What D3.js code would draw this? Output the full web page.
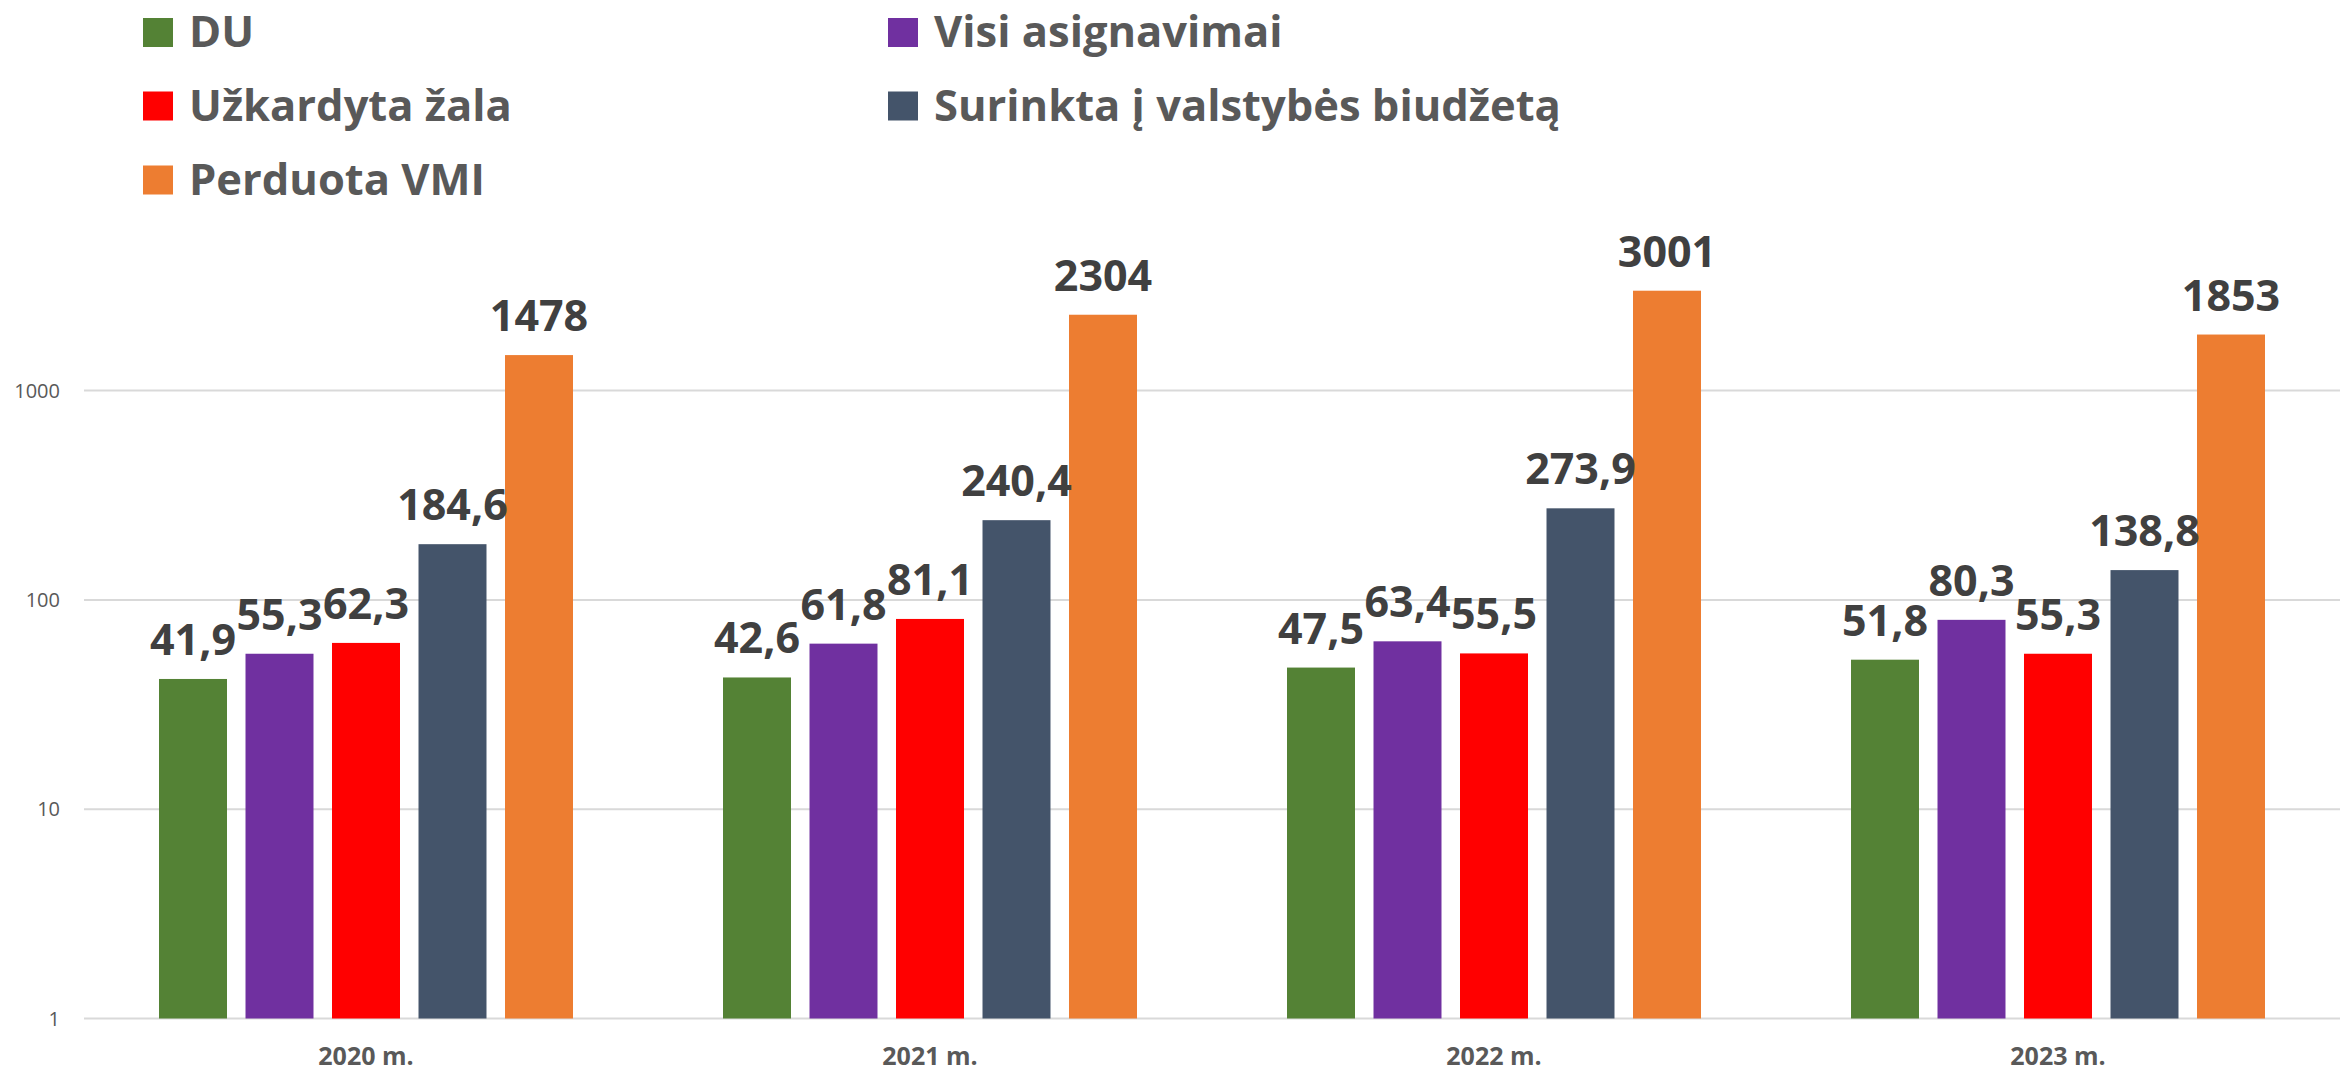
<!DOCTYPE html>
<html>
<head>
<meta charset="utf-8">
<script src="https://cdn.jsdelivr.net/npm/d3@7"></script>
<style>
  body { margin: 0; background: #fff; }
  text { font-family: "Open Sans", sans-serif; }
</style>
</head>
<body>
<svg id="chart" width="2344" height="1072"></svg>
<script>
const years = ["2020 m.", "2021 m.", "2022 m.", "2023 m."];
const series = ["DU", "Visi asignavimai", "Užkardyta žala", "Surinkta į valstybės biudžetą", "Perduota VMI"];
const colors = ["#548235", "#7030a0", "#ff0000", "#44546a", "#ed7d31"];
const du = [41.9, 42.6, 47.5, 51.8];
const asignavimai = [55.3, 61.8, 63.4, 80.3];
const zala = [62.3, 81.1, 55.5, 55.3];
const surinkta = [184.6, 240.4, 273.9, 138.8];
const vmi = [1478, 2304, 3001, 1853];
const yTicks = [1, 10, 100, 1000];

const values = [du, asignavimai, zala, surinkta, vmi];
const svg = d3.select("#chart");

const x0 = d3.scaleBand().domain(years).range([84, 2340]);
const groupW = 414;
const x1 = d3.scaleBand().domain(series)
    .range([(x0.bandwidth() - groupW) / 2, (x0.bandwidth() + groupW) / 2])
    .paddingInner(0.214);
const y = d3.scaleLog().domain([1, 10000]).range([1018.5, 181.3]);

// gridlines
svg.append("g")
    .selectAll("line")
    .data(yTicks)
    .join("line")
    .attr("x1", 84)
    .attr("x2", 2340)
    .attr("y1", d => y(d))
    .attr("y2", d => y(d))
    .attr("stroke", "#d9d9d9")
    .attr("stroke-width", 2);

// y tick labels
svg.append("g")
    .selectAll("text")
    .data(yTicks)
    .join("text")
    .attr("x", 60)
    .attr("y", d => y(d))
    .attr("dy", "0.35em")
    .attr("text-anchor", "end")
    .attr("font-size", 20)
    .attr("fill", "#595959")
    .text(d => d);

const rows = [];
years.forEach((yr, i) => {
    series.forEach((s, j) => {
        rows.push({ year: yr, key: s, value: values[j][i], color: colors[j] });
    });
});

const groups = svg.append("g")
    .selectAll("g")
    .data(years)
    .join("g")
    .attr("transform", d => `translate(${x0(d)},0)`);

groups.selectAll("rect")
    .data(yr => rows.filter(r => r.year === yr))
    .join("rect")
    .attr("x", d => x1(d.key))
    .attr("width", x1.bandwidth())
    .attr("y", d => y(d.value))
    .attr("height", d => y(1) - y(d.value))
    .attr("fill", d => d.color);

groups.selectAll("text.val")
    .data(yr => rows.filter(r => r.year === yr))
    .join("text")
    .attr("class", "val")
    .attr("x", d => x1(d.key) + x1.bandwidth() / 2)
    .attr("y", d => y(d.value) - 24)
    .attr("text-anchor", "middle")
    .attr("font-size", 43)
    .attr("font-weight", 700)
    .attr("fill", "#404040")
    .text(d => String(d.value).replace(".", ","));

// x axis labels
svg.append("g")
    .selectAll("text")
    .data(years)
    .join("text")
    .attr("x", d => x0(d) + x0.bandwidth() / 2)
    .attr("y", 1065)
    .attr("text-anchor", "middle")
    .attr("font-size", 25)
    .attr("font-weight", 700)
    .attr("fill", "#595959")
    .text(d => d);

// legend
const legendPos = [[143, 32.5], [888, 32.5], [143, 106], [888, 106], [143, 180]];
const legend = svg.append("g")
    .selectAll("g")
    .data(series)
    .join("g")
    .attr("transform", (d, i) => `translate(${legendPos[i][0]},${legendPos[i][1]})`);
legend.append("rect")
    .attr("x", 0)
    .attr("y", -14.5)
    .attr("width", 30)
    .attr("height", 29)
    .attr("fill", (d, i) => colors[i]);
legend.append("text")
    .attr("x", 46)
    .attr("y", 14.5)
    .attr("font-size", 43.5)
    .attr("font-weight", 700)
    .attr("fill", "#595959")
    .text(d => d);
</script>
</body>
</html>
